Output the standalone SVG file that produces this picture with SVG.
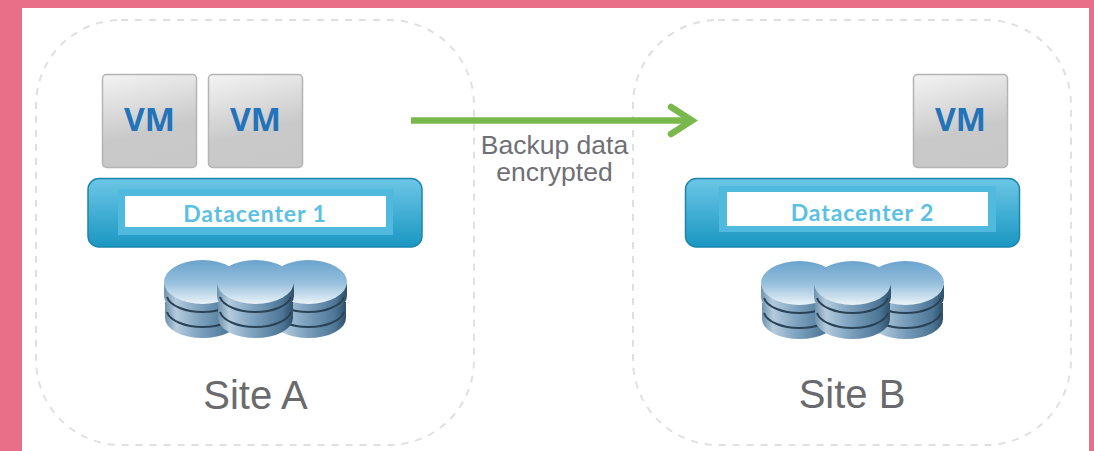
<svg xmlns="http://www.w3.org/2000/svg" xmlns:xlink="http://www.w3.org/1999/xlink" width="1094" height="451" viewBox="0 0 1094 451">
<style>
.site{fill:none;stroke:#e0e0e0;stroke-width:2;stroke-dasharray:7 7}
.vmbox{fill:url(#vmg);stroke:#b4b4b4;stroke-width:1.500}
.vmt{font:700 32px "Open Sans","Liberation Sans",sans-serif;fill:#2273b9;text-anchor:middle}
.dc{fill:url(#dcg);stroke:#1a86ac;stroke-width:1.500}
.band{fill:#4fbade}
.lab{fill:#fff}
.dct{font:700 23px Lato,"Liberation Sans",sans-serif;fill:#5cc0e2;text-anchor:middle;letter-spacing:.9px}
.sitet{font:40px "Liberation Sans",Arial,sans-serif;fill:#6a6a6e;text-anchor:middle}
.note{font:26.500px "Liberation Sans",Arial,sans-serif;fill:#6f6f76;text-anchor:middle}
.conn{fill:none;stroke:#7ab84e;stroke-width:6.500;stroke-linejoin:miter}
</style>
<defs>
<filter id="soft" x="-5%" y="-5%" width="110%" height="110%"><feGaussianBlur stdDeviation="0.7"/></filter>
<linearGradient id="vmg" x1="0" y1="0" x2="0.25" y2="1"><stop offset="0" stop-color="#f3f3f3"/><stop offset=".3" stop-color="#e2e2e2"/><stop offset=".7" stop-color="#c9c9c9"/><stop offset="1" stop-color="#c8c8c8"/></linearGradient>
<linearGradient id="dcg" x1="0" y1="0" x2="0" y2="1"><stop offset="0" stop-color="#6cc6e6"/><stop offset="1" stop-color="#1a97c2"/></linearGradient>
<linearGradient id="topg" x1="0" y1="0" x2="0" y2="1"><stop offset="0" stop-color="#6ba3cd"/><stop offset=".5" stop-color="#94bedc"/><stop offset="1" stop-color="#eaf3f8"/></linearGradient>
<linearGradient id="sideg" x1="0" y1="0" x2="1" y2="0"><stop offset="0" stop-color="#6f93ae"/><stop offset=".15" stop-color="#b4cbdc"/><stop offset=".45" stop-color="#7fa3c0"/><stop offset=".85" stop-color="#4d7696"/><stop offset="1" stop-color="#2f5069"/></linearGradient>
<g id="cyl">
<path d="M1 58a37.500 20 0 0 0 75 0v-9H1z" fill="url(#sideg)"/>
<path d="M1 42v10a37.500 20 0 0 0 75 0V42z" fill="url(#sideg)"/>
<path d="M3 52a36 18 0 0 0 71 0" fill="none" stroke="#2c4356" stroke-width="2"/>
<path d="M0 24v12a38.500 20 0 0 0 77 0V24z" fill="url(#sideg)"/>
<path d="M3 37a36 18 0 0 0 71 0" fill="none" stroke="#2c4356" stroke-width="2"/>
<ellipse cx="38.500" cy="22" rx="38.500" ry="22" fill="url(#topg)"/>
</g>
<g id="stack" filter="url(#soft)">
<use xlink:href="#cyl" href="#cyl" x="0" y="0"/>
<use xlink:href="#cyl" href="#cyl" x="106" y="0"/>
<use xlink:href="#cyl" href="#cyl" x="53" y="0"/>
</g>
</defs>
<rect width="1094" height="451" fill="#e96e88"/>
<rect x="22" y="8" width="1067" height="443" fill="#fff"/>
<g id="site-a">
<rect class="site" x="36" y="20" width="438" height="425" rx="85"/>
<text class="sitet" x="255.500" y="409">Site A</text>
</g>
<g id="site-b">
<rect class="site" x="633" y="20" width="438" height="425" rx="85"/>
<text class="sitet" x="852" y="408">Site B</text>
</g>
<g id="vm-a1"><rect class="vmbox" x="102.500" y="74.500" width="94" height="93" rx="4"/><text class="vmt" x="149.500" y="131">VM</text></g>
<g id="vm-a2"><rect class="vmbox" x="208.500" y="74.500" width="94" height="93" rx="4"/><text class="vmt" x="255.500" y="131">VM</text></g>
<g id="vm-b1"><rect class="vmbox" x="913.500" y="74.500" width="94" height="93" rx="4"/><text class="vmt" x="960.500" y="131">VM</text></g>
<g id="datacenter-1">
<rect class="dc" x="88" y="178.500" width="334" height="68.500" rx="11"/>
<rect class="band" x="118" y="189" width="275" height="46"/>
<rect class="lab" x="125" y="196" width="261" height="31"/>
<text class="dct" x="255" y="222">Datacenter 1</text>
</g>
<g id="datacenter-2">
<rect class="dc" x="685.500" y="178.500" width="334" height="68.500" rx="11"/>
<rect class="band" x="719" y="186" width="277" height="46"/>
<rect class="lab" x="727" y="192" width="261" height="34"/>
<text class="dct" x="862.500" y="221">Datacenter 2</text>
</g>
<g id="storage-a"><use xlink:href="#stack" href="#stack" x="164" y="260"/></g>
<g id="storage-b"><use xlink:href="#stack" href="#stack" x="761" y="261"/></g>
<g id="connectors">
<path class="conn" d="M411 120.500H691"/>
<path class="conn" d="M671 107L692 120.500L671 134" stroke-linecap="round"/>
</g>
<g id="connector-label">
<text class="note" x="554.500" y="154">Backup data</text>
<text class="note" x="554.500" y="181">encrypted</text>
</g>
</svg>
